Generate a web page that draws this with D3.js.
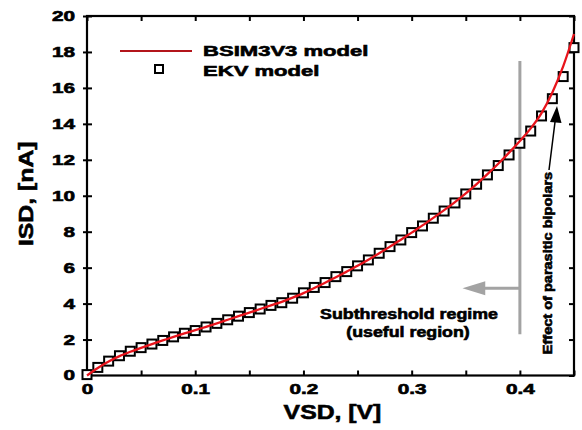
<!DOCTYPE html>
<html>
<head>
<meta charset="utf-8">
<script src="https://cdn.jsdelivr.net/npm/d3@7"></script>
<style>
  body { margin: 0; background: #fff; }
  text { font-family: "Liberation Sans", Arial, sans-serif; font-weight: bold; fill: #000;
         stroke: #000; stroke-width: 0.6px; }
</style>
</head>
<body>
<div id="chart"></div>
<script>
// VSD grid (V), one point every 10 mV
var vsd = [0, 0.01, 0.02, 0.03, 0.04, 0.05, 0.06, 0.07, 0.08, 0.09,
           0.10, 0.11, 0.12, 0.13, 0.14, 0.15, 0.16, 0.17, 0.18, 0.19,
           0.20, 0.21, 0.22, 0.23, 0.24, 0.25, 0.26, 0.27, 0.28, 0.29,
           0.30, 0.31, 0.32, 0.33, 0.34, 0.35, 0.36, 0.37, 0.38, 0.39,
           0.40, 0.41, 0.42, 0.43, 0.44, 0.45];

// BSIM3V3 model (red line), ISD in nA
var bsim = [0, 0.42, 0.78, 1.08, 1.32, 1.54, 1.75, 1.95, 2.15, 2.34,
            2.52, 2.71, 2.9, 3.1, 3.3, 3.5, 3.7, 3.9, 4.1, 4.33,
            4.58, 4.87, 5.16, 5.47, 5.78, 6.1, 6.44, 6.8, 7.17, 7.55,
            7.95, 8.35, 8.77, 9.2, 9.65, 10.13, 10.65, 11.2, 11.78, 12.4,
            13.05, 13.75, 14.6, 15.75, 17.2, 19.0];

// EKV model (squares), ISD in nA
var ekv = [0.05, 0.45, 0.8, 1.1, 1.35, 1.55, 1.75, 1.95, 2.15, 2.35,
           2.5, 2.7, 2.9, 3.1, 3.3, 3.5, 3.7, 3.9, 4.05, 4.3,
           4.6, 4.9, 5.17, 5.5, 5.78, 6.1, 6.43, 6.8, 7.17, 7.54,
           7.95, 8.32, 8.75, 9.15, 9.6, 10.1, 10.64, 11.16, 11.68, 12.27,
           12.92, 13.6, 14.44, 15.4, 16.63, 18.24];

var xTicks = [0, 0.1, 0.2, 0.3, 0.4];
var xMinorTicks = [0, 0.05, 0.1, 0.15, 0.2, 0.25, 0.3, 0.35, 0.4, 0.45];
var yTicks = [0, 2, 4, 6, 8, 10, 12, 14, 16, 18, 20];

var w = 582, h = 430;
var padL = 87, padR = 574, padT = 16, padB = 375.5;

var svg = d3.select("#chart").append("svg")
    .attr("width", w).attr("height", h);

svg.append("rect").attr("width", w).attr("height", h).attr("fill", "#fff");

var x = d3.scaleLinear().domain([0, 0.45]).range([padL, padR]);
var y = d3.scaleLinear().domain([0, 20]).range([padB, padT]);

// the original font is much wider than Arial, so stretch text horizontally
function stretch(sel, k) {
  sel.each(function() {
    var len = this.getComputedTextLength();
    this.setAttribute("textLength", len * k);
    this.setAttribute("lengthAdjust", "spacingAndGlyphs");
  });
}

// bottom axis
var gx = svg.append("g").attr("transform", "translate(0," + padB + ")")
    .call(d3.axisBottom(x).tickValues(xMinorTicks).tickSize(-5)
      .tickFormat(function(d) { return xTicks.indexOf(d) >= 0 ? d3.format("")(d) : ""; }));
gx.select(".domain").remove();
gx.selectAll(".tick line").attr("stroke", "#000").attr("stroke-width", 2);
gx.selectAll(".tick text").attr("y", 9).attr("font-size", 14).attr("font-family", null).attr("fill", "#000");
stretch(gx.selectAll(".tick text"), 1.48);

// top ticks
var gt = svg.append("g").attr("transform", "translate(0," + padT + ")")
    .call(d3.axisTop(x).tickValues(xMinorTicks).tickSize(-5).tickFormat(""));
gt.select(".domain").remove();
gt.selectAll(".tick line").attr("stroke", "#000").attr("stroke-width", 2);

// left axis, ticks cross the frame
var gy = svg.append("g").attr("transform", "translate(" + padL + ",0)")
    .call(d3.axisLeft(y).tickValues(yTicks).tickSize(4));
gy.select(".domain").remove();
gy.selectAll(".tick line").attr("x1", 5).attr("x2", -4).attr("stroke", "#000").attr("stroke-width", 2);
gy.selectAll(".tick text").attr("x", -12).attr("font-size", 14).attr("font-family", null).attr("fill", "#000");
stretch(gy.selectAll(".tick text"), 1.48);

// right ticks
var gr = svg.append("g").attr("transform", "translate(" + padR + ",0)")
    .call(d3.axisRight(y).tickValues(yTicks).tickSize(-5).tickFormat(""));
gr.select(".domain").remove();
gr.selectAll(".tick line").attr("stroke", "#000").attr("stroke-width", 2);

// frame
svg.append("rect")
    .attr("x", padL).attr("y", padT)
    .attr("width", padR - padL).attr("height", padB - padT)
    .attr("fill", "none").attr("stroke", "#000").attr("stroke-width", 2.2);

// axis titles
var xt = svg.append("text").attr("x", (padL + padR) / 2 + 2).attr("y", 419)
    .attr("text-anchor", "middle").attr("font-size", 21).text("VSD, [V]");
stretch(xt, 1.18);

var yt = svg.append("text")
    .attr("transform", "translate(33," + ((padT + padB) / 2 - 2) + ") rotate(-90)")
    .attr("text-anchor", "middle").attr("font-size", 21).text("ISD, [nA]");
stretch(yt, 1.18);

// gray annotation: vertical line and arrow at 0.4 V
var gray = "#a3a3a3";
svg.append("line")
    .attr("x1", x(0.4)).attr("x2", x(0.4))
    .attr("y1", y(17.5)).attr("y2", y(2.3))
    .attr("stroke", gray).attr("stroke-width", 3);
svg.append("line")
    .attr("x1", x(0.4)).attr("x2", x(0.366))
    .attr("y1", y(4.85)).attr("y2", y(4.85))
    .attr("stroke", gray).attr("stroke-width", 3);
svg.append("path")
    .attr("d", d3.line()([[x(0.347), y(4.85)], [x(0.368), y(4.85) - 7], [x(0.368), y(4.85) + 7]]) + "Z")
    .attr("fill", gray);

var t1 = svg.append("text").attr("x", 409).attr("y", 319)
    .attr("text-anchor", "middle").attr("font-size", 14).text("Subthreshold regime");
stretch(t1, 1.27);
var t2 = svg.append("text").attr("x", 408).attr("y", 337)
    .attr("text-anchor", "middle").attr("font-size", 14).text("(useful region)");
stretch(t2, 1.27);

// parasitic bipolars annotation
var t3 = svg.append("text")
    .attr("transform", "translate(552,263) rotate(-90)")
    .attr("text-anchor", "middle").attr("font-size", 12).text("Effect of parasitic bipolars");
stretch(t3, 1.21);
svg.append("line")
    .attr("x1", 549).attr("y1", 170).attr("x2", 555).attr("y2", 122)
    .attr("stroke", "#000").attr("stroke-width", 1.5);
svg.append("path")
    .attr("d", "M557,106 L561.5,123 L550,122 Z")
    .attr("fill", "#000");

// EKV markers
var pts = vsd.map(function(v, i) { return [v, ekv[i]]; });
svg.append("g").selectAll("rect")
    .data(pts).enter().append("rect")
    .attr("x", function(d) { return x(d[0]) - 4.5; })
    .attr("y", function(d) { return y(d[1]) - 4.5; })
    .attr("width", 9).attr("height", 9)
    .attr("fill", "#fff").attr("stroke", "#000").attr("stroke-width", 2);

// BSIM3V3 line
var linePts = vsd.map(function(v, i) { return [v, bsim[i]]; });
svg.append("path")
    .datum(linePts)
    .attr("fill", "none").attr("stroke", "#e8141c").attr("stroke-width", 2.3)
    .attr("d", d3.line()
      .x(function(d) { return x(d[0]); })
      .y(function(d) { return y(d[1]); })
      .curve(d3.curveMonotoneX));

// legend
svg.append("line").attr("x1", 120).attr("x2", 192).attr("y1", 51).attr("y2", 51)
    .attr("stroke", "#b3151b").attr("stroke-width", 2);
svg.append("rect").attr("x", 155).attr("y", 65).attr("width", 8).attr("height", 8)
    .attr("fill", "#fff").attr("stroke", "#000").attr("stroke-width", 2);
var l1 = svg.append("text").attr("x", 203).attr("y", 56).attr("font-size", 15).text("BSIM3V3 model");
stretch(l1, 1.47);
var l2 = svg.append("text").attr("x", 203).attr("y", 76).attr("font-size", 15).text("EKV model");
stretch(l2, 1.47);
</script>
</body>
</html>
